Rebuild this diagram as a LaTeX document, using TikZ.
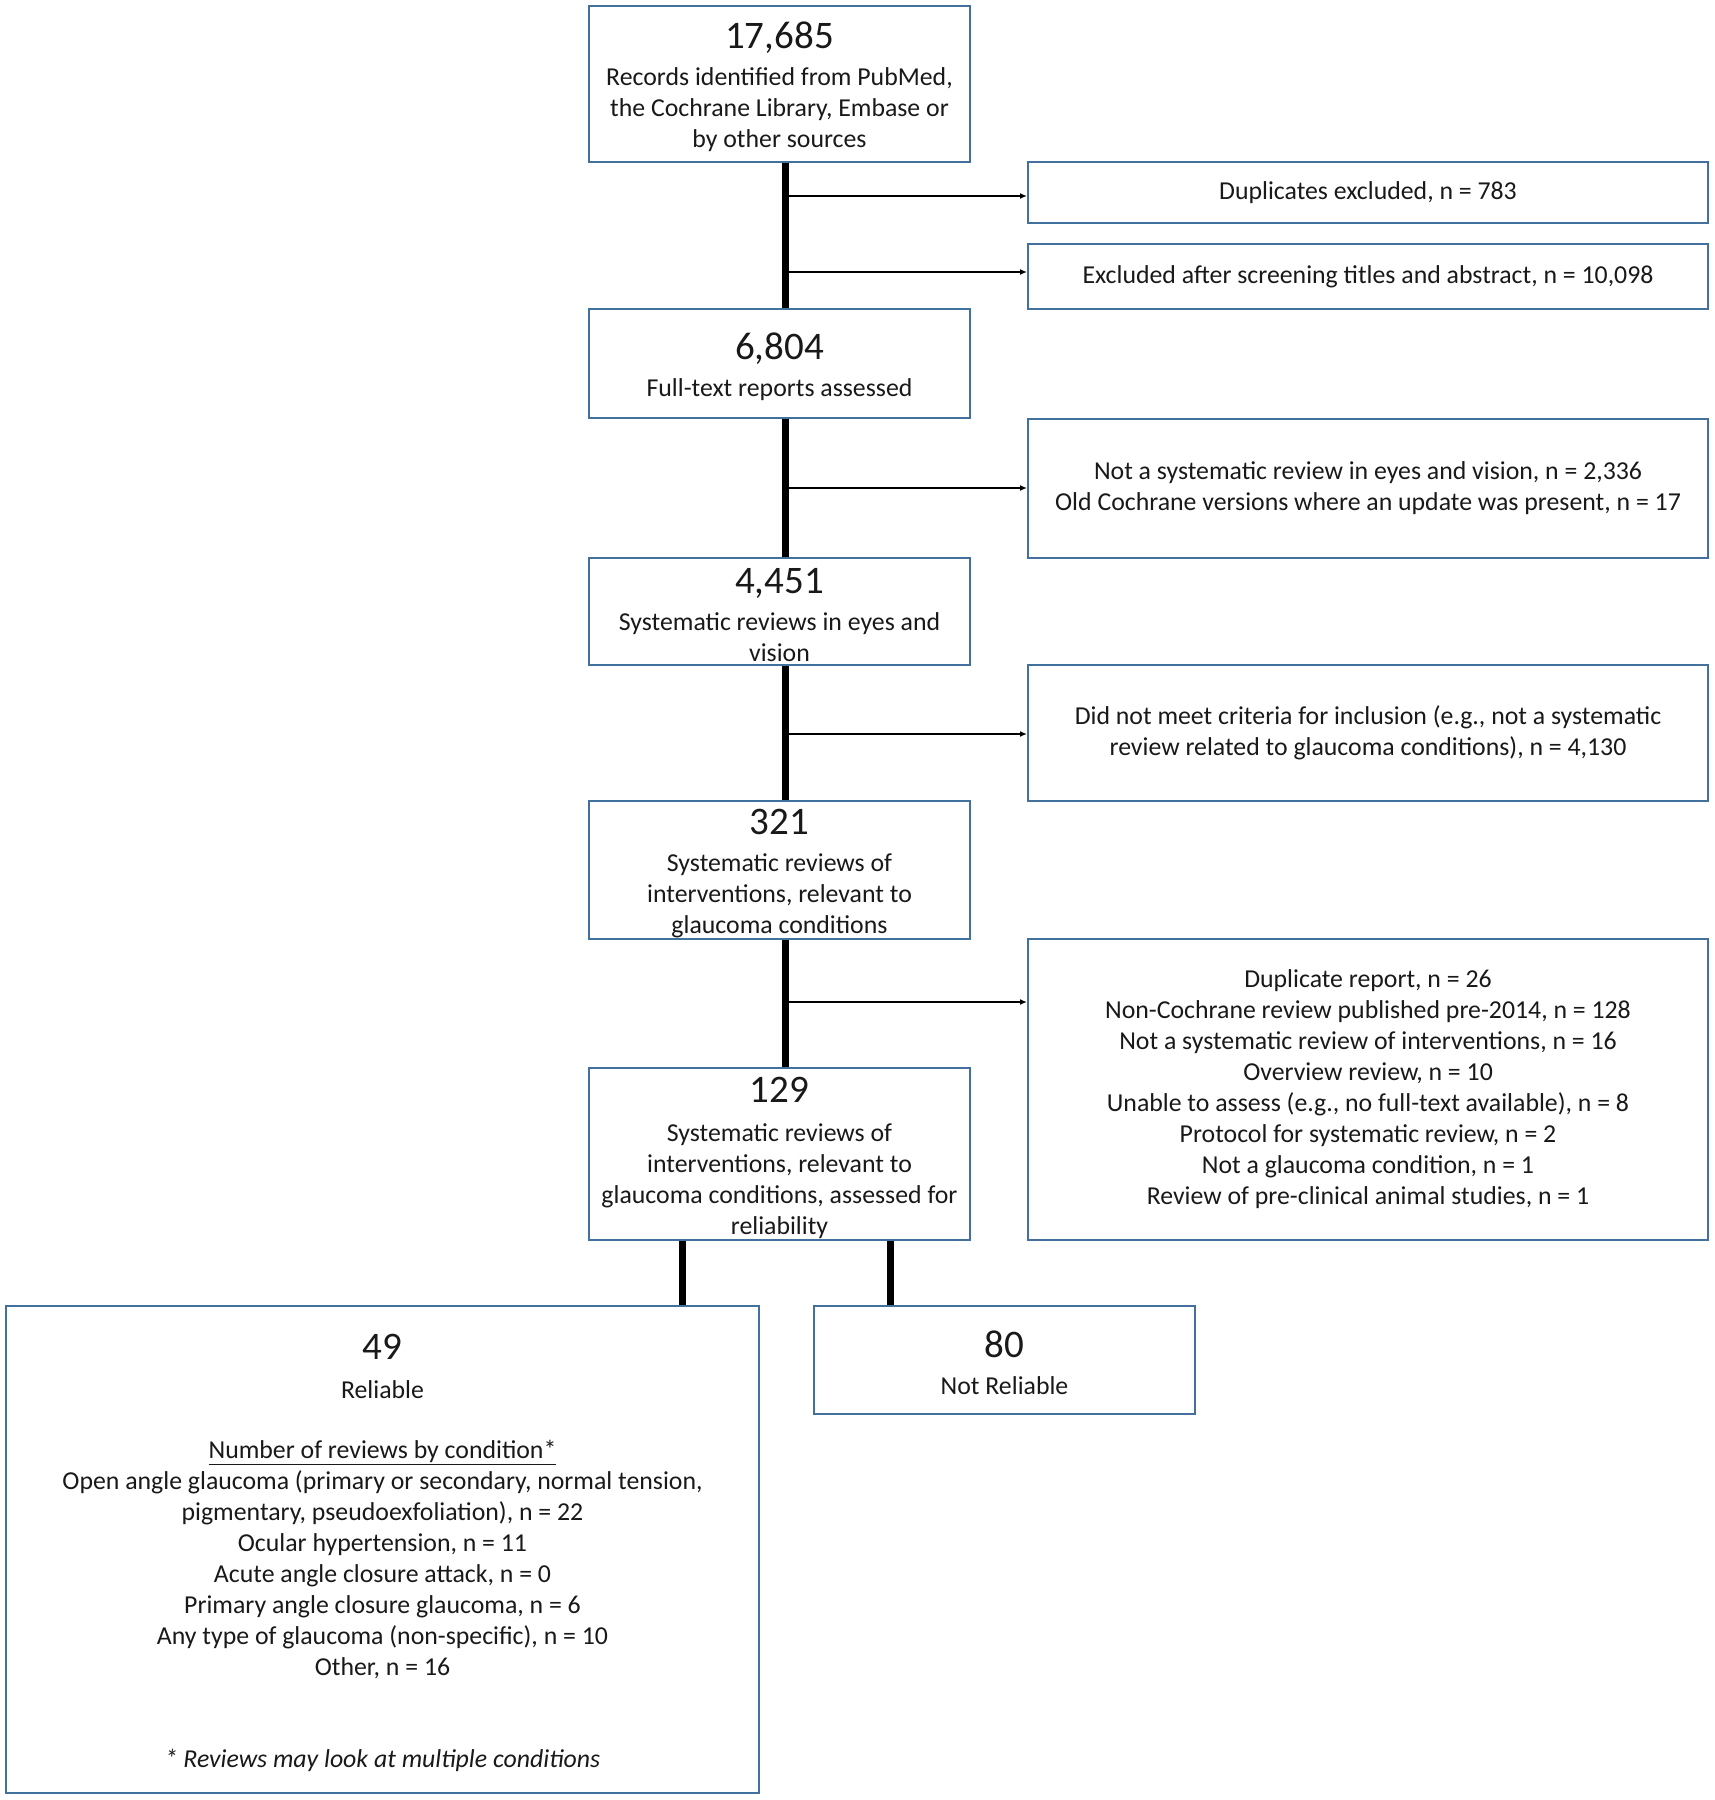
\documentclass[tikz,border=0pt]{standalone}
\usepackage{fontspec}
\setmainfont{Carlito}
\usetikzlibrary{arrows.meta}
\definecolor{boxblue}{RGB}{65,113,156}
\tikzset{
  box/.style={draw=boxblue, line width=2pt, align=center, inner sep=0pt,
    font=\fontsize{25.8}{31}\selectfont, text=black!90},
  spineline/.style={line width=7pt, black},
  arr/.style={line width=1.8pt, black, -{Latex[length=7pt,width=6pt]}},
}
\newcommand\bignum[1]{{\fontsize{39}{40}\selectfont\rule{0pt}{33pt}#1}}
\begin{document}
\begin{tikzpicture}[x=1pt,y=-1pt]
\useasboundingbox (0,0) rectangle (1715,1800);
\fill[white] (0,0) rectangle (1715,1800);

% main column
\node[box, minimum width=381, minimum height=156] (b1) at (779.5,84)
  {\bignum{17,685}\\[6pt]Records identified from PubMed,\\the Cochrane Library, Embase or\\by other sources};
\node[box, minimum width=381, minimum height=109] (b2) at (779.5,363.5)
  {\bignum{6,804}\\[6pt]Full-text reports assessed};
\node[box, minimum width=381, minimum height=107] (b3) at (779.5,611.5)
  {\bignum{4,451}\\[6pt]Systematic reviews in eyes and\\vision};
\node[box, minimum width=381, minimum height=138] (b4) at (779.5,870)
  {\bignum{321}\\[6pt]Systematic reviews of\\interventions, relevant to\\glaucoma conditions};
\node[box, minimum width=381, minimum height=172] (b5) at (779.5,1154)
  {\bignum{129}\\[8pt]Systematic reviews of\\interventions,  relevant to\\glaucoma conditions, assessed for\\reliability};

% exclusion boxes
\node[box, minimum width=680, minimum height=61] (dup) at (1368,192.5)
  {Duplicates excluded, n = 783};
\node[box, minimum width=680, minimum height=65] (exc) at (1368,276.5)
  {Excluded after screening titles and abstract, n = 10,098};
\node[box, minimum width=680, minimum height=139] (nsr) at (1368,488.5)
  {Not a systematic review in eyes and vision, n = 2,336\\Old Cochrane versions where an update was present, n = 17};
\node[box, minimum width=680, minimum height=136] (crit) at (1368,733)
  {Did not meet criteria for inclusion (e.g., not a systematic\\review related to glaucoma conditions), n = 4,130};
\node[box, minimum width=680, minimum height=301] (drep) at (1368,1089.5)
  {Duplicate report, n = 26\\Non-Cochrane review published pre-2014, n = 128\\Not a systematic review of interventions, n = 16\\Overview review, n = 10\\Unable to assess (e.g., no full-text available), n = 8\\Protocol for systematic review, n = 2\\Not a glaucoma condition, n = 1\\Review of pre-clinical animal studies, n = 1};

% bottom boxes
\node[box, minimum width=753, minimum height=487] (rel) at (382.5,1549.5)
  {\bignum{49}\\[8pt]Reliable\\[29pt]\underline{Number of reviews by condition*}\\
   Open angle glaucoma (primary or secondary, normal tension,\\
   pigmentary, pseudoexfoliation), n = 22\\
   Ocular hypertension, n = 11\\
   Acute angle closure attack, n = 0\\
   Primary angle closure glaucoma, n = 6\\
   Any type of glaucoma (non-specific), n = 10\\
   Other, n = 16\\[61pt]
   \textit{* Reviews may look at multiple conditions}};
\node[box, minimum width=381, minimum height=108] (nrel) at (1004.5,1360)
  {\bignum{80}\\[6pt]Not Reliable};

% spine
\coordinate (sp) at (785,0);
\draw[spineline] (b1.south -| sp) -- (b2.north -| sp);
\draw[spineline] (b2.south -| sp) -- (b3.north -| sp);
\draw[spineline] (b3.south -| sp) -- (b4.north -| sp);
\draw[spineline] (b4.south -| sp) -- (b5.north -| sp);

% arrows
\coordinate (a1) at (788,196);
\coordinate (a2) at (788,272);
\coordinate (a3) at (788,488);
\coordinate (a4) at (788,734);
\coordinate (a5) at (788,1002);
\draw[arr] (a1) -- (a1 -| dup.west);
\draw[arr] (a2) -- (a2 -| exc.west);
\draw[arr] (a3) -- (a3 -| nsr.west);
\draw[arr] (a4) -- (a4 -| crit.west);
\draw[arr] (a5) -- (a5 -| drep.west);

% branches
\coordinate (bl) at (682,0);
\coordinate (br) at (890,0);
\draw[spineline] (b5.south -| bl) -- (rel.north -| bl);
\draw[spineline] (b5.south -| br) -- (nrel.north -| br);
\end{tikzpicture}
\end{document}
